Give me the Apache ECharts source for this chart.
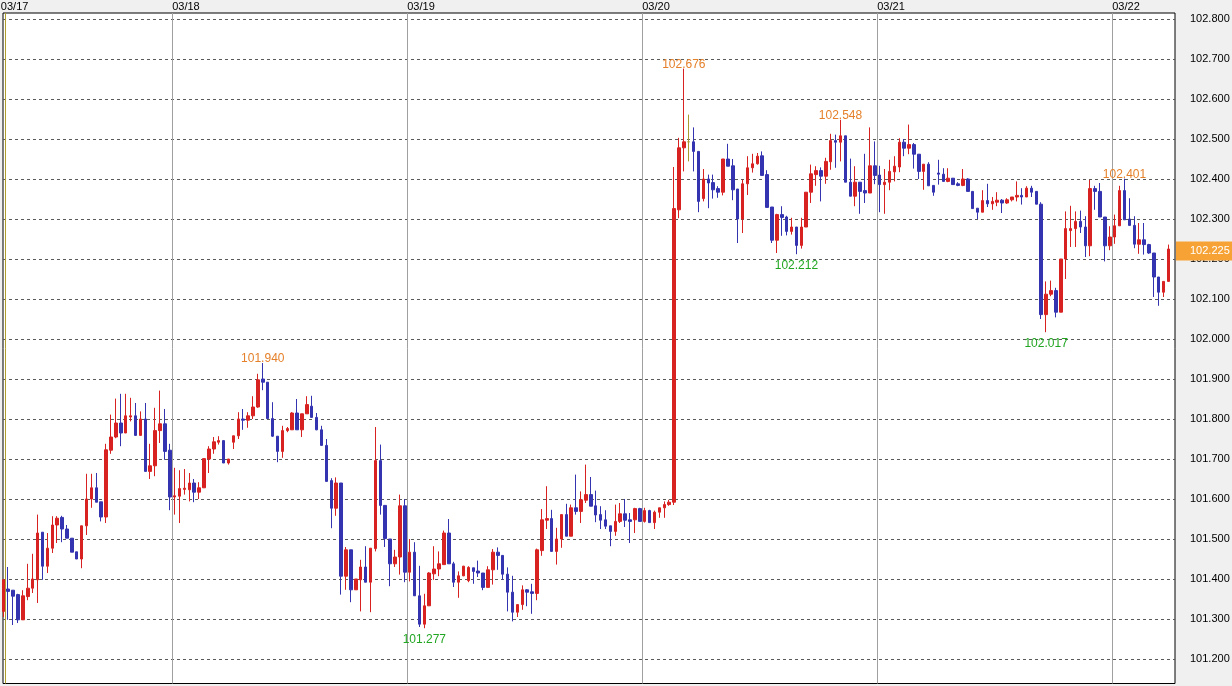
<!DOCTYPE html>
<html><head><meta charset="utf-8">
<script src="https://cdn.jsdelivr.net/npm/echarts@6/dist/echarts.min.js"></script>
<style>html,body{margin:0;padding:0;background:#f0f0f0;overflow:hidden}#c{width:1232px;height:686px}</style>
</head><body><div id="c"></div>
<script>
// 30-minute candles, USD/JPY, first candle 2014-03-17 06:30
const firstCandle = Date.UTC(2014, 2, 17, 6, 30);
const candleMinutes = 30;

const open = [
101.319,101.375,101.372,101.361,101.298,101.356,101.377,101.398,101.517,101.432,
101.477,101.535,101.554,101.525,101.502,101.468,101.450,101.533,101.600,101.628,
101.593,101.555,101.722,101.755,101.790,101.765,101.805,101.808,101.759,101.800,
101.669,101.683,101.771,101.788,101.722,101.605,101.607,101.624,101.623,101.640,
101.617,101.628,101.700,101.725,101.742,101.746,101.690,101.742,101.758,101.800,
101.797,101.808,101.830,101.900,101.892,101.801,101.757,101.719,101.771,101.773,
101.815,101.773,101.813,101.832,101.804,101.773,101.734,101.646,101.577,101.640,
101.407,101.473,101.373,101.398,101.430,101.392,101.476,101.696,101.584,101.500,
101.438,101.455,101.583,101.417,101.467,101.358,101.287,101.333,101.413,101.425,
101.436,101.515,101.438,101.392,101.408,101.396,101.428,101.420,101.415,101.379,
101.423,101.467,101.459,101.412,101.367,101.317,101.336,101.373,101.368,101.364,
101.471,101.547,101.551,101.469,101.500,101.561,101.507,101.578,101.569,101.597,
101.611,101.583,101.561,101.548,101.533,101.519,101.544,101.563,101.548,101.548,
101.576,101.544,101.571,101.541,101.567,101.578,101.586,101.592,102.323,102.478,
102.493,102.493,102.469,102.351,102.400,102.391,102.376,102.367,102.450,102.433,
102.375,102.300,102.388,102.428,102.438,102.458,102.411,102.330,102.247,102.311,
102.305,102.269,102.280,102.234,102.280,102.367,102.411,102.421,102.407,102.443,
102.496,102.492,102.508,102.392,102.357,102.392,102.371,102.365,102.433,102.410,
102.386,102.392,102.418,102.430,102.492,102.477,102.486,102.462,102.419,102.437,
102.384,102.415,102.412,102.394,102.402,102.388,102.384,102.400,102.369,102.327,
102.317,102.346,102.338,102.342,102.347,102.340,102.348,102.355,102.359,102.355,
102.377,102.369,102.337,102.061,102.112,102.121,102.067,102.200,102.271,102.276,
102.294,102.280,102.233,102.376,102.369,102.305,102.233,102.255,102.283,102.371,
102.300,102.284,102.237,102.248,102.236,102.215,102.155,102.117,102.144
];
const close = [
101.398,101.369,101.357,101.298,101.358,101.377,101.400,101.515,101.432,101.477,
101.535,101.552,101.525,101.502,101.467,101.450,101.533,101.600,101.628,101.592,
101.555,101.723,101.755,101.790,101.765,101.808,101.808,101.759,101.800,101.669,
101.683,101.771,101.788,101.719,101.605,101.608,101.626,101.627,101.640,101.617,
101.628,101.701,101.725,101.743,101.746,101.690,101.700,101.758,101.800,101.797,
101.808,101.830,101.898,101.892,101.801,101.757,101.719,101.771,101.776,101.815,
101.773,101.813,101.836,101.804,101.773,101.734,101.644,101.577,101.640,101.407,
101.473,101.373,101.400,101.430,101.392,101.477,101.696,101.584,101.501,101.438,
101.455,101.583,101.417,101.467,101.358,101.287,101.333,101.415,101.425,101.438,
101.515,101.438,101.392,101.408,101.432,101.429,101.419,101.415,101.379,101.423,
101.467,101.459,101.412,101.367,101.317,101.336,101.373,101.367,101.364,101.473,
101.548,101.551,101.469,101.500,101.561,101.507,101.578,101.569,101.598,101.611,
101.582,101.560,101.547,101.532,101.519,101.544,101.563,101.547,101.544,101.576,
101.544,101.571,101.541,101.567,101.578,101.586,101.592,102.326,102.478,102.493,
102.493,102.469,102.344,102.400,102.390,102.373,102.367,102.450,102.432,102.373,
102.300,102.388,102.428,102.438,102.457,102.409,102.329,102.247,102.311,102.304,
102.269,102.280,102.234,102.280,102.367,102.413,102.421,102.407,102.444,102.496,
102.492,102.508,102.392,102.357,102.392,102.369,102.365,102.433,102.409,102.386,
102.392,102.419,102.432,102.492,102.477,102.486,102.462,102.419,102.437,102.383,
102.367,102.412,102.394,102.402,102.386,102.384,102.400,102.369,102.326,102.317,
102.346,102.338,102.344,102.347,102.340,102.348,102.355,102.359,102.355,102.377,
102.367,102.337,102.061,102.112,102.121,102.067,102.200,102.276,102.276,102.294,
102.280,102.233,102.376,102.369,102.305,102.233,102.255,102.283,102.371,102.298,
102.284,102.237,102.248,102.236,102.215,102.155,102.117,102.144,102.225
];
const low = [
101.305,101.298,101.285,101.290,101.298,101.347,101.365,101.340,101.398,101.415,
101.465,101.490,101.492,101.502,101.467,101.450,101.427,101.510,101.578,101.592,
101.544,101.540,101.713,101.752,101.732,101.765,101.794,101.759,101.759,101.669,
101.650,101.657,101.740,101.698,101.572,101.561,101.540,101.611,101.594,101.592,
101.600,101.628,101.665,101.713,101.736,101.690,101.686,101.725,101.750,101.773,
101.778,101.800,101.828,101.872,101.801,101.755,101.692,101.703,101.767,101.773,
101.773,101.755,101.813,101.804,101.772,101.734,101.644,101.527,101.558,101.361,
101.373,101.342,101.373,101.319,101.392,101.317,101.469,101.561,101.480,101.382,
101.430,101.411,101.392,101.394,101.358,101.280,101.277,101.333,101.398,101.407,
101.436,101.438,101.380,101.353,101.407,101.392,101.388,101.405,101.372,101.379,
101.386,101.423,101.398,101.319,101.294,101.305,101.323,101.332,101.313,101.347,
101.458,101.525,101.469,101.436,101.478,101.507,101.507,101.561,101.540,101.590,
101.582,101.542,101.525,101.525,101.482,101.508,101.540,101.530,101.490,101.515,
101.544,101.541,101.541,101.525,101.553,101.553,101.583,101.585,102.302,102.419,
102.444,102.419,102.317,102.344,102.327,102.351,102.353,102.359,102.432,102.347,
102.240,102.265,102.360,102.416,102.436,102.409,102.329,102.240,102.215,102.258,
102.259,102.261,102.212,102.226,102.280,102.340,102.383,102.344,102.388,102.423,
102.428,102.444,102.392,102.357,102.332,102.313,102.340,102.365,102.387,102.317,
102.313,102.372,102.394,102.417,102.457,102.462,102.426,102.400,102.373,102.383,
102.358,102.386,102.394,102.392,102.386,102.382,102.382,102.369,102.326,102.300,
102.317,102.330,102.323,102.332,102.315,102.338,102.344,102.344,102.336,102.355,
102.355,102.337,102.050,102.017,102.107,102.054,102.067,102.150,102.230,102.230,
102.265,102.205,102.207,102.323,102.305,102.194,102.222,102.238,102.283,102.298,
102.284,102.227,102.213,102.211,102.213,102.105,102.083,102.105,102.144
];
const high = [
101.400,101.430,101.372,101.363,101.372,101.438,101.463,101.561,101.517,101.515,
101.557,101.557,101.558,101.535,101.502,101.468,101.533,101.663,101.663,101.665,
101.593,101.738,101.811,101.851,101.863,101.863,101.853,101.840,101.819,101.840,
101.738,101.828,101.871,101.825,101.738,101.678,101.672,101.675,101.665,101.650,
101.642,101.701,101.732,101.755,101.757,101.746,101.700,101.758,101.817,101.825,
101.817,101.857,101.913,101.940,101.892,101.842,101.757,101.783,101.780,101.817,
101.850,101.813,101.857,101.858,101.815,101.783,101.750,101.652,101.654,101.640,
101.480,101.473,101.400,101.448,101.482,101.477,101.780,101.736,101.584,101.500,
101.473,101.611,101.600,101.500,101.492,101.433,101.363,101.417,101.482,101.469,
101.521,101.550,101.443,101.419,101.433,101.432,101.428,101.446,101.415,101.432,
101.475,101.479,101.459,101.429,101.408,101.336,101.384,101.375,101.388,101.476,
101.575,101.632,101.573,101.528,101.561,101.588,101.586,101.661,101.619,101.686,
101.655,101.621,101.582,101.572,101.533,101.586,101.590,101.600,101.565,101.578,
101.578,101.578,101.573,101.571,101.578,101.594,101.598,102.430,102.503,102.676,
102.561,102.529,102.469,102.425,102.411,102.411,102.382,102.450,102.488,102.450,
102.375,102.398,102.457,102.463,102.465,102.469,102.422,102.330,102.313,102.332,
102.308,102.303,102.280,102.303,102.367,102.436,102.432,102.429,102.453,102.513,
102.511,102.548,102.508,102.451,102.432,102.392,102.463,102.529,102.494,102.433,
102.425,102.448,102.457,102.502,102.500,102.536,102.490,102.462,102.437,102.442,
102.384,102.448,102.427,102.427,102.402,102.392,102.425,102.402,102.369,102.327,
102.372,102.388,102.355,102.367,102.350,102.352,102.355,102.394,102.377,102.382,
102.383,102.369,102.342,102.144,102.146,102.128,102.200,102.319,102.333,102.319,
102.321,102.307,102.398,102.383,102.390,102.305,102.282,102.311,102.383,102.401,
102.352,102.307,102.290,102.290,102.238,102.215,102.155,102.144,102.236
];
// candles whose high / low carries a price label
const highMarks = [53, 139, 171, 229];
const lowMarks = [86, 162, 213];

const pad = n => String(n).padStart(2, '0');
const times = open.map((_, i) => {
  const d = new Date(firstCandle + i * candleMinutes * 60000);
  return pad(d.getUTCMonth() + 1) + '/' + pad(d.getUTCDate()) + ' ' + pad(d.getUTCHours()) + ':' + pad(d.getUTCMinutes());
});
const isDayStart = v => v.slice(6) === '00:00';
const candles = open.map((o, i) => [i, o, close[i], low[i], high[i]]);
const lastClose = close[close.length - 1];

const FONT = "'Liberation Sans',Arial,sans-serif";
const FS = 11;
const chart = echarts.init(document.getElementById('c'), null, {renderer: 'canvas'});
chart.setOption({
  backgroundColor: '#f0f0f0',
  animation: false,
  grid: [
    {left: 3, right: 57, top: 13, bottom: 2.5, show: true, backgroundColor: '#ffffff', borderColor: '#000000', borderWidth: 1, outerBoundsMode: 'none', containLabel: false},
    {left: 0.852, right: 65.9, top: 13, bottom: 2.5, outerBoundsMode: 'none', containLabel: false},
    {left: 3, right: 57, top: 19, bottom: 27, outerBoundsMode: 'none', containLabel: false}
  ],
  xAxis: [
    {gridIndex: 0, type: 'value', show: false},
    {gridIndex: 1, type: 'category', boundaryGap: false, data: times, position: 'top',
      axisLine: {show: false}, axisTick: {show: false},
      axisLabel: {interval: (i, v) => i === 0 || isDayStart(v), formatter: v => v.slice(0, 5),
        align: 'left', margin: 1, color: '#000', fontFamily: FONT, fontSize: FS},
      splitLine: {show: true, interval: (i, v) => i > 0 && isDayStart(v),
        lineStyle: {color: '#a0a0a0', width: 1, type: 'solid'}}},
    {gridIndex: 2, type: 'value', min: -0.0613, max: 239.32, show: false}
  ],
  yAxis: [
    {gridIndex: 0, type: 'value', show: false},
    {gridIndex: 1, type: 'value', show: false},
    {gridIndex: 2, type: 'value', min: 101.2, max: 102.8, interval: 0.1, position: 'right',
      axisLine: {show: false}, axisTick: {show: false},
      axisLabel: {margin: 15, align: 'left', formatter: v => v.toFixed(3), color: '#000', fontFamily: FONT, fontSize: FS},
      splitLine: {show: true, lineStyle: {color: '#5a5a5a', type: [3, 3], width: 1}}}
  ],
  series: [
    {type: 'line', xAxisIndex: 1, yAxisIndex: 1, data: [], silent: true,
      markLine: {silent: true, symbol: 'none', label: {show: false},
        lineStyle: {color: '#b0a030', type: 'solid', width: 1}, data: [{xAxis: 1}]}},
    {type: 'candlestick', xAxisIndex: 2, yAxisIndex: 2, data: candles,
      encode: {x: 0, y: [1, 2, 3, 4]},
      barWidth: 3, silent: true,
      itemStyle: {color: '#d82222', color0: '#3434b0', borderColor: '#d82222', borderColor0: '#3434b0',
        borderColorDoji: '#a89a30', borderWidth: 1},
      markPoint: {symbol: 'circle', symbolSize: 0, silent: true,
        label: {show: true, formatter: p => p.value.toFixed(3), fontFamily: FONT, fontSize: 12},
        data: [
          ...highMarks.map(i => ({coord: [i, high[i]], value: high[i], label: {position: 'top', distance: -2, color: '#e5802a'}})),
          ...lowMarks.map(i => ({coord: [i, low[i]], value: low[i], label: {position: 'bottom', distance: 5, color: '#22a622'}}))
        ]},
      markLine: {silent: true, symbol: 'none', lineStyle: {color: 'transparent', width: 0},
        label: {show: true, position: 'end', distance: 1, formatter: () => lastClose.toFixed(3),
          backgroundColor: '#f7a234', color: '#ffffff', padding: [3, 14, 3, 14], lineHeight: 13,
          fontFamily: FONT, fontSize: FS},
        data: [{yAxis: lastClose}]}}
  ]
});
</script>
</body></html>
